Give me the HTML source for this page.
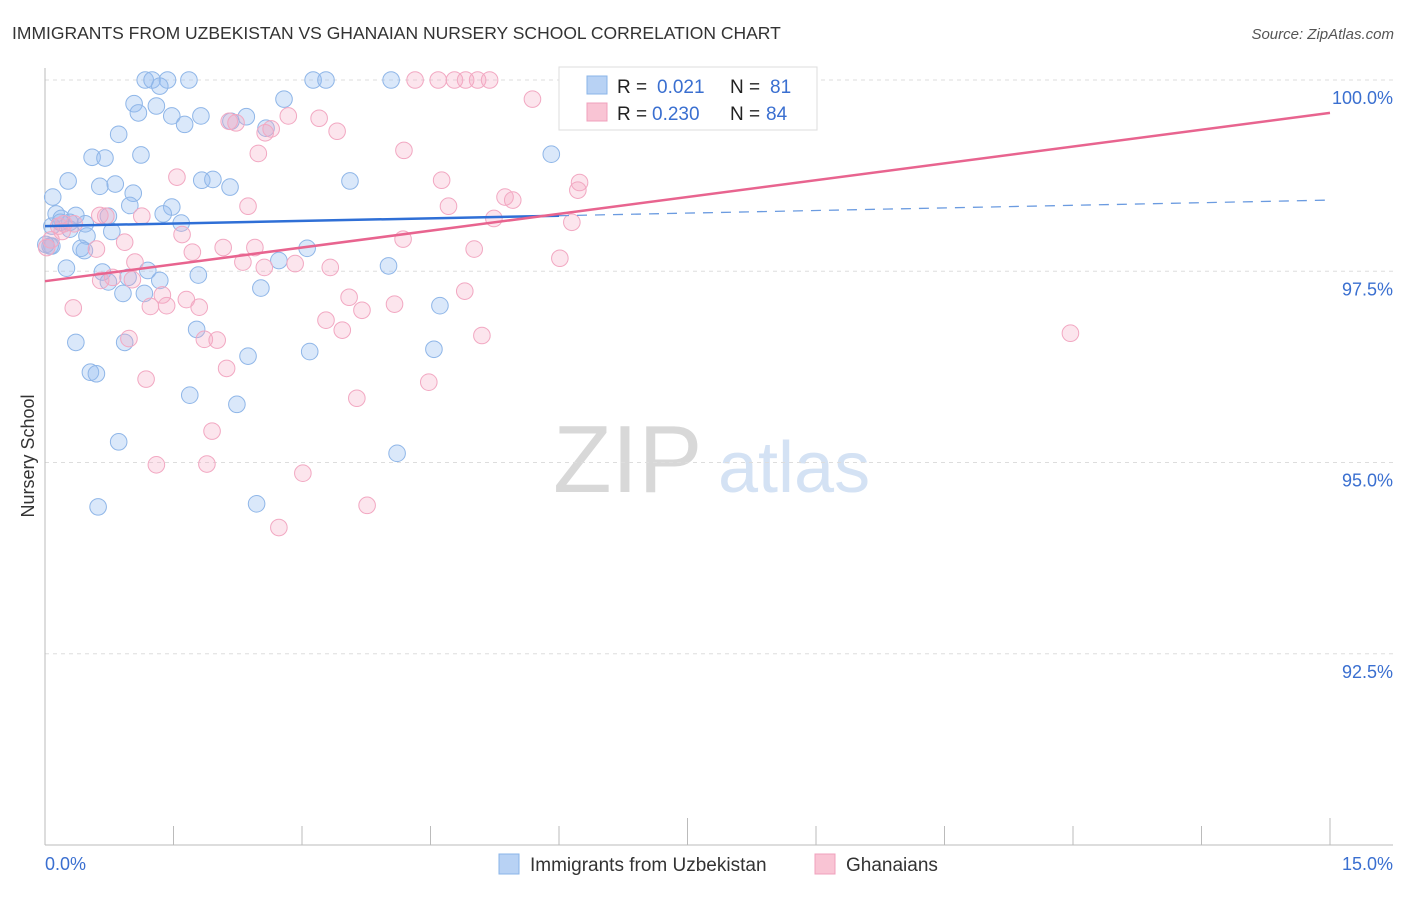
<!DOCTYPE html>
<html><head><meta charset="utf-8"><style>
body{margin:0;background:#fff;font-family:"Liberation Sans",sans-serif;}
svg text{font-family:"Liberation Sans",sans-serif;}
</style></head><body>
<svg id="chart" width="1406" height="892" viewBox="0 0 1406 892" xmlns="http://www.w3.org/2000/svg">
<text x="12" y="39" font-size="17.5" fill="#333">IMMIGRANTS FROM UZBEKISTAN VS GHANAIAN NURSERY SCHOOL CORRELATION CHART</text>
<text x="1394" y="39" font-size="15" fill="#555" font-style="italic" text-anchor="end">Source: ZipAtlas.com</text>
<g>
<text x="553" y="492" font-size="96" fill="#d8d8d8" font-family="Liberation Serif">ZIP</text>
<text x="718" y="492" font-size="72" fill="#d4e2f4">atlas</text>
</g>
<g id="grid"></g><g id="axes"></g><g id="points"></g><g id="lines"></g>
<text transform="translate(34,456) rotate(-90)" font-size="18" fill="#333" text-anchor="middle">Nursery School</text>
<g>
<rect x="559" y="67" width="258" height="63" fill="#fff" stroke="#ddd"/>
<rect x="587" y="76" width="20" height="18" fill="#b8d2f4" stroke="#8ab4e8"/>
<rect x="587" y="103" width="20" height="18" fill="#f9c4d4" stroke="#f0a0bc"/>
<g font-size="19">
<text x="617" y="93" fill="#222">R =</text><text x="657" y="93" fill="#3a6fd0">0.021</text>
<text x="730" y="93" fill="#222">N =</text><text x="770" y="93" fill="#3a6fd0">81</text>
</g>
<g font-size="19">
<text x="617" y="120" fill="#222">R =</text><text x="652" y="120" fill="#3a6fd0">0.230</text>
<text x="730" y="120" fill="#222">N =</text><text x="766" y="120" fill="#3a6fd0">84</text>
</g>
</g>
<g>
<rect x="499" y="854" width="20" height="20" fill="#b8d2f4" stroke="#8ab4e8"/>
<text x="530" y="871" font-size="19" fill="#333">Immigrants from Uzbekistan</text>
<rect x="815" y="854" width="20" height="20" fill="#f9c4d4" stroke="#f0a0bc"/>
<text x="846" y="871" font-size="19" fill="#333">Ghanaians</text>
</g>
</svg>
<script>
const yTicks=[100,97.5,95,92.5];
const yTickLabels=["100.0%","97.5%","95.0%","92.5%"];
const xTickVals=[0,1.5,3,4.5,6,7.5,9,10.5,12,13.5,15];
const xEndLabels=["0.0%","15.0%"];
const blueX=[1.17,1.25,1.43,1.68,3.13,3.28,4.04,1.34,1.04,1.30,1.09,1.48,1.82,2.35,2.17,1.63,2.58,2.79,0.86,1.12,0.55,0.70,5.91,0.27,0.64,0.82,1.83,1.96,2.16,3.56,1.03,0.09,0.99,1.48,0.13,0.36,0.19,1.38,0.74,1.59,0.08,0.29,0.78,0.49,0.08,0.46,0.42,3.06,2.73,0.25,0.67,1.20,0.97,1.79,0.74,1.34,0.91,1.16,2.52,4.61,1.77,0.93,0.36,2.37,3.09,4.54,0.53,0.60,1.69,2.24,0.86,4.11,0.62,2.47,4.01,0.01,0.06,0.29,0.18,0.47];
const blueY=[100,100,100,100,100,100,100,99.92,99.69,99.66,99.57,99.53,99.53,99.52,99.46,99.42,99.37,99.75,99.29,99.02,98.99,98.98,99.03,98.68,98.61,98.64,98.69,98.70,98.60,98.68,98.52,98.47,98.36,98.34,98.25,98.23,98.19,98.25,98.22,98.13,98.09,98.05,98.02,97.96,97.83,97.77,97.80,97.80,97.64,97.54,97.49,97.51,97.42,97.45,97.36,97.38,97.21,97.21,97.28,97.05,96.74,96.57,96.57,96.39,96.45,96.48,96.18,96.16,95.88,95.76,95.27,95.12,94.42,94.46,97.57,97.85,97.83,98.14,98.14,98.12];
const pinkX=[4.32,4.59,4.78,5.05,5.19,4.91,6.93,5.69,2.84,3.20,2.23,2.64,3.41,2.57,2.15,4.19,2.49,1.54,4.63,6.24,6.22,5.37,5.46,4.71,2.37,1.13,0.64,0.71,1.60,0.93,0.20,0.60,1.72,2.08,2.45,5.01,4.18,5.24,6.15,0.02,6.01,2.31,2.56,2.92,3.33,1.05,0.79,1.02,0.65,1.37,1.65,1.42,1.23,1.80,3.55,4.08,4.90,3.70,0.33,3.28,3.47,1.86,2.01,0.98,5.10,11.97,2.12,1.18,4.48,3.64,1.95,1.30,1.89,3.01,3.76,2.73,0.07,0.22,0.16,0.34];
const pinkY=[100,100,100,100,100,100,100,99.75,99.53,99.50,99.44,99.36,99.33,99.31,99.46,99.08,99.04,98.73,98.69,98.66,98.56,98.47,98.43,98.35,98.35,98.22,98.23,98.22,97.98,97.88,98.02,97.79,97.75,97.81,97.81,97.79,97.92,98.19,98.14,97.81,97.67,97.62,97.55,97.60,97.55,97.62,97.42,97.39,97.38,97.19,97.13,97.05,97.04,97.03,97.16,97.07,97.24,96.99,97.02,96.86,96.73,96.61,96.60,96.62,96.66,96.69,96.23,96.09,96.05,95.84,95.41,94.97,94.98,94.86,94.44,94.15,97.91,98.12,98.09,98.12];
const blueTrend=[98.09,98.43];
const pinkTrend=[97.37,99.57];
const NS="http://www.w3.org/2000/svg";
const X0=45,X1=1330,Y0=845,Y1=80;
function sx(v){return X0+(v-0)/(15-0)*(X1-X0);}
function sy(v){return Y0-(v-90)/(100-90)*(Y0-Y1);}
function mk(tag,attrs,parent){const e=document.createElementNS(NS,tag);for(const k in attrs)e.setAttribute(k,attrs[k]);parent.appendChild(e);return e;}
const grid=document.getElementById('grid'),axes=document.getElementById('axes'),pts=document.getElementById('points'),lines=document.getElementById('lines');
yTicks.forEach((t,i)=>{
 const l=mk('line',{x1:X0,x2:1393,y1:sy(t),y2:sy(t),stroke:'#ddd','stroke-dasharray':'4,4'},grid);
 
 
 const tx=mk('text',{x:1393,y:sy(t)+24,'font-size':18,fill:'#3a6fd0','text-anchor':'end'},axes);
 tx.textContent=yTickLabels[i];
 
 
});
const xa=mk('line',{x1:X0,x2:1393,y1:Y0,y2:Y0,stroke:'#bbb'},axes);


const ya=mk('line',{x1:X0,x2:X0,y1:68,y2:Y0,stroke:'#bbb'},axes);


xTickVals.forEach((t,i)=>{
 if(i===0)return;
 const tk=mk('line',{x1:sx(t),x2:sx(t),y1:Y0,y2:(i===5||i===10)?Y0-27:Y0-19,stroke:'#bbb'},axes);
 
 
});
const xl0=mk('text',{x:45,y:870,'font-size':18,fill:'#3a6fd0'},axes);xl0.textContent=xEndLabels[0];


const xl1=mk('text',{x:1393,y:870,'font-size':18,fill:'#3a6fd0','text-anchor':'end'},axes);xl1.textContent=xEndLabels[1];


blueX.forEach((v,i)=>{
 const c=mk('circle',{cx:sx(v),cy:sy(blueY[i]),r:8.3,fill:'rgba(150,190,240,0.35)',stroke:'#8fb6e8','stroke-width':1},pts);
 
 
});
pinkX.forEach((v,i)=>{
 const c=mk('circle',{cx:sx(v),cy:sy(pinkY[i]),r:8.3,fill:'rgba(245,170,195,0.3)',stroke:'#f2a8c2','stroke-width':1},pts);
 
 
});
function trendAt(tr,x){return tr[0]+(tr[1]-tr[0])*x/15;}
const bs=mk('line',{x1:sx(0),y1:sy(trendAt(blueTrend,0)),x2:sx(6),y2:sy(trendAt(blueTrend,6)),stroke:'#2f6fd6','stroke-width':2.5},lines);


const bd=mk('line',{x1:sx(6),y1:sy(trendAt(blueTrend,6)),x2:sx(15),y2:sy(trendAt(blueTrend,15)),stroke:'#6b9be0','stroke-width':1.3,'stroke-dasharray':'10,8'},lines);


const pl=mk('line',{x1:sx(0),y1:sy(trendAt(pinkTrend,0)),x2:sx(15),y2:sy(trendAt(pinkTrend,15)),stroke:'#e8648f','stroke-width':2.5},lines);


</script>
</body></html>
